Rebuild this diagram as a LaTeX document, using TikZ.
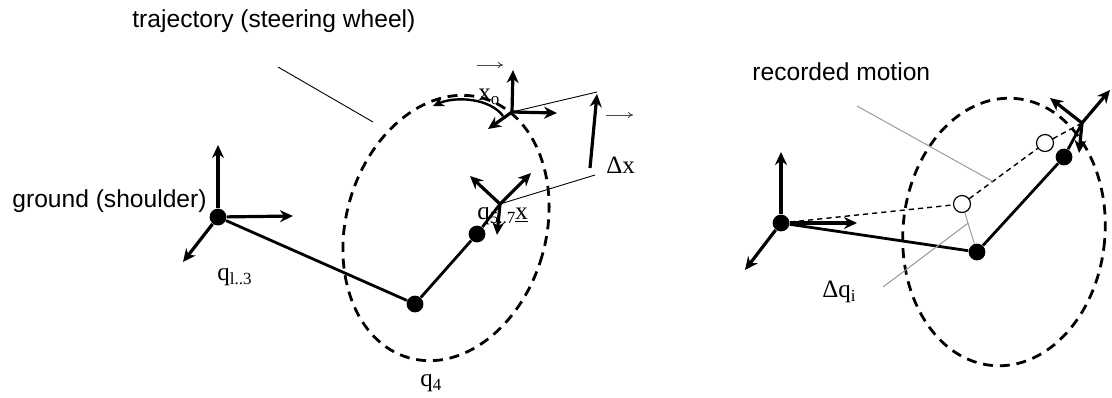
\documentclass[tikz,border=0pt]{standalone}
\usepackage{fontspec}
\setmainfont{Liberation Sans}
\newfontfamily\labelserif{Liberation Serif}
\usepackage{tikz}
\usetikzlibrary{arrows.meta,calc}
\definecolor{ink}{HTML}{000000}
\definecolor{leader}{HTML}{9A9A9A}
\tikzset{
  ax/.style={-{Stealth[length=6.5pt,width=6pt]}, line width=1.6pt, draw=ink},
  swing/.style={-{Stealth[length=5.5pt,width=5pt]}, line width=1.2pt, draw=ink},
  link/.style={line width=1.4pt, draw=ink},
  traj/.style={line width=1.4pt, draw=ink, dash pattern=on 5pt off 3.4pt},
  recl/.style={line width=0.7pt, draw=ink, dash pattern=on 2.6pt off 2pt},
  thinl/.style={line width=0.45pt, draw=ink},
  lead/.style={line width=0.5pt, draw=leader},
  accent/.style={-{To[length=2.5pt,width=3pt]}, line width=0.5pt, draw=ink!70},
  jt/.style={circle, fill=ink, inner sep=0pt, minimum size=8.4pt},
  ojt/.style={circle, draw=ink, fill=white, line width=0.6pt, inner sep=0pt, minimum size=8.5pt},
  sans/.style={anchor=base west, inner sep=0pt, font=\fontsize{12.3}{14}\selectfont},
  sym/.style={anchor=base west, inner sep=0pt, font=\fontsize{12.5}{14}\selectfont\labelserif}
}
\newcommand{\lsub}[1]{\raisebox{-0.35ex}{\fontsize{8.5}{9}\selectfont #1}}
\newcommand{\DrawFrame}[4]{% origin, three tips
  \draw[ax] (#1) -- (#2);
  \draw[ax] (#1) -- (#3);
  \draw[ax] (#1) -- (#4);
}

\begin{document}
\begin{tikzpicture}[x=0.5pt,y=-0.5pt]
  \useasboundingbox (0,0) rectangle (1112,397);
  % left: arm and steering wheel
  \coordinate (ctrL) at (446,228);
  \draw[traj, rotate around={-16:(ctrL)}] (ctrL) ellipse [x radius=100, y radius=135];
  \node[jt] (gL) at (218,217) {};
  \node[jt] (eL) at (415,304) {};
  \node[jt] (wL) at (477,234) {};
  \coordinate (fL) at (500,204);
  \coordinate (fO) at (512,112);
  \draw[link] (gL) -- (eL) -- (wL) -- (fL);
  \coordinate (gLy) at (218,145);
  \coordinate (gLx) at (293,216);
  \coordinate (gLz) at (183,262);
  \DrawFrame{gL}{gLy}{gLx}{gLz}
  \coordinate (fLa) at (470,176);
  \coordinate (fLb) at (531,173);
  \coordinate (fLc) at (497,235);
  \DrawFrame{fL}{fLa}{fLb}{fLc}
  \coordinate (fOy) at (513,70);
  \coordinate (fOx) at (557,113);
  \coordinate (fOz) at (488,129);
  \DrawFrame{fO}{fOy}{fOx}{fOz}
  \coordinate (swA) at (503,116);
  \coordinate (swB) at (433,106);
  \draw[swing] (swA) .. controls (490,98) and (455,96) .. (swB);
  \coordinate (dxA) at (597,92);
  \coordinate (dxB) at (595,175);
  \draw[thinl] (fO) -- (dxA);
  \draw[thinl] (fL) -- (dxB);
  \coordinate (dxS) at (590,168);
  \coordinate (dxE) at (597,94);
  \draw[ax] (dxS) -- (dxE);
  \node[sans] (trajlbl) at (132,27) {trajectory (steering wheel)};
  \coordinate (trajA) at (278,67);
  \coordinate (trajB) at (373,122);
  \draw[thinl] (trajA) -- (trajB);
  \node[sans] (groundlbl) at (12,207) {ground (shoulder)};
  \node[sym] (q13) at (217,280) {q\lsub{l..3}};
  \node[sym] (q4) at (420,386) {q\lsub{4}};
  \node[sym] (q57) at (477,219) {q\lsub{5..7}\underline{x}};
  \node[sym] (xo) at (478,100) {x\lsub{o}};
  \node[sym] (dx) at (606,173) {Δx};
  \coordinate (xoV1) at (477,65);
  \coordinate (xoV2) at (503,65);
  \draw[accent] (xoV1) -- (xoV2);
  \coordinate (dxV1) at (606,115);
  \coordinate (dxV2) at (633,115);
  \draw[accent] (dxV1) -- (dxV2);
  % right: recorded motion
  \coordinate (ctrR) at (1004,232);
  \draw[traj, rotate around={-5:(ctrR)}] (ctrR) ellipse [x radius=101, y radius=134];
  \node[jt] (gR) at (781,223) {};
  \node[jt] (eR) at (977,252) {};
  \node[jt] (wR) at (1064,157) {};
  \coordinate (fR) at (1082,123);
  \node[ojt] (c1) at (962,204) {};
  \node[ojt] (c2) at (1045,143) {};
  \draw[recl] (gR) -- (c1) -- (c2) -- (fR);
  \draw[link] (gR) -- (eR) -- (wR) -- (fR);
  \draw[lead] (c1) -- (eR);
  \coordinate (gRy) at (781,152);
  \coordinate (gRx) at (857,223);
  \coordinate (gRz) at (745,270);
  \DrawFrame{gR}{gRy}{gRx}{gRz}
  \coordinate (fRa) at (1110,90);
  \coordinate (fRb) at (1050,98);
  \coordinate (fRc) at (1079,153);
  \DrawFrame{fR}{fRa}{fRb}{fRc}
  \node[sans] (reclbl) at (752,80) {recorded motion};
  \coordinate (recA) at (857,106);
  \draw[lead] (recA) -- ($(c1)!0.37!(c2)$);
  \node[sym] (dqlbl) at (822,297) {Δq\lsub{i}};
  \coordinate (dqA) at (883,287);
  \draw[lead] (dqA) -- ($(c1)!0.4!(eR)$);
\end{tikzpicture}
\end{document}
